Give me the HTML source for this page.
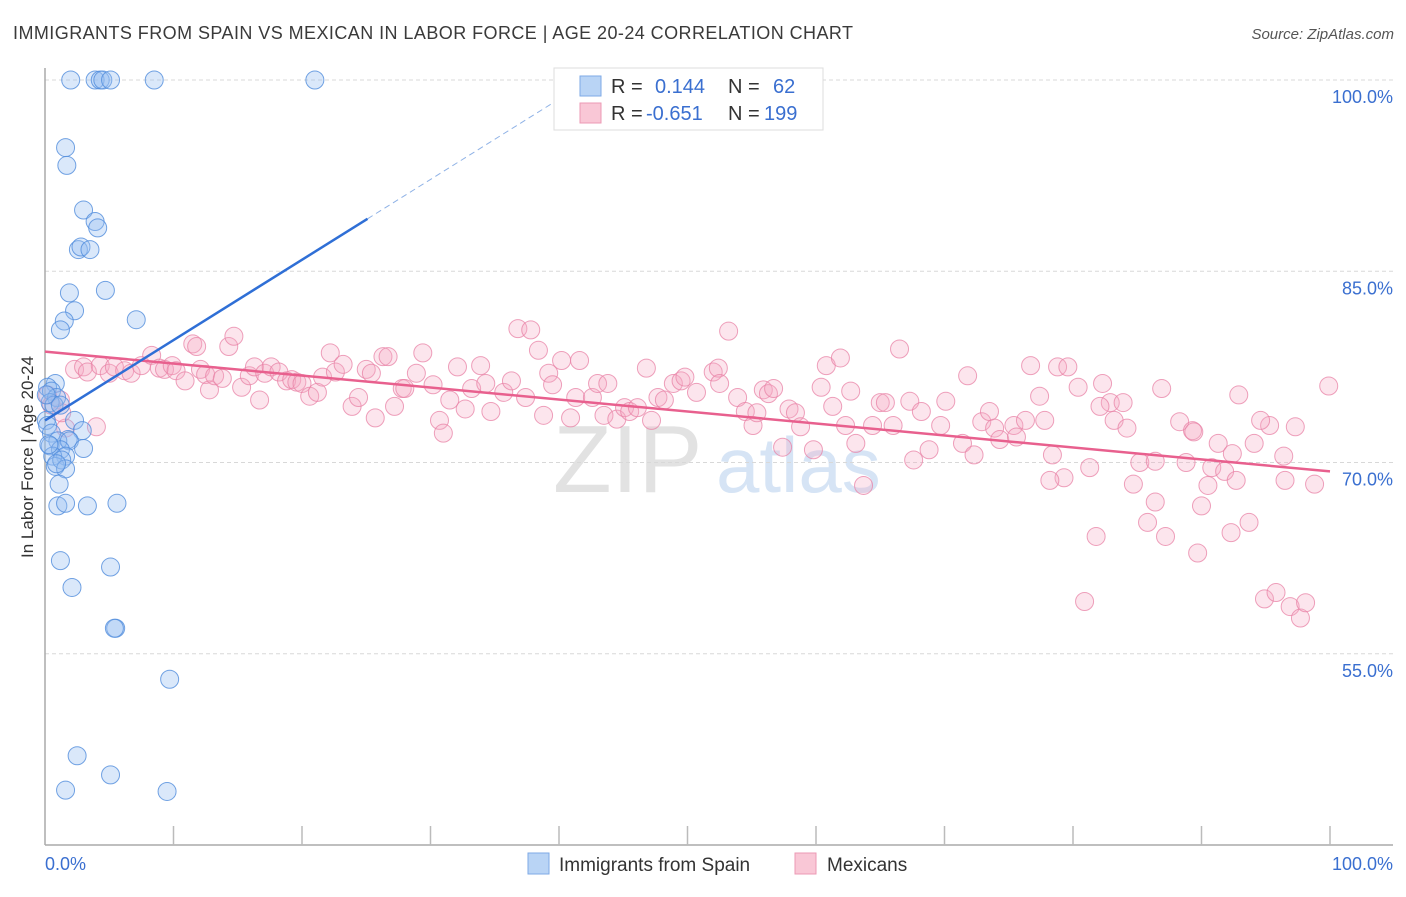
<!DOCTYPE html>
<html><head><meta charset="utf-8">
<style>
body{margin:0;background:#fff;font-family:"Liberation Sans",sans-serif;}
svg text{font-family:"Liberation Sans",sans-serif;}
</style></head>
<body>
<svg id="chart" width="1406" height="892" viewBox="0 0 1406 892" xmlns="http://www.w3.org/2000/svg">
<text x="13" y="39" font-size="18" fill="#3a3a3a" textLength="840" lengthAdjust="spacing">IMMIGRANTS FROM SPAIN VS MEXICAN IN LABOR FORCE | AGE 20-24 CORRELATION CHART</text>
<text x="1394" y="39" font-size="15" fill="#555" text-anchor="end" font-style="italic">Source: ZipAtlas.com</text>
<g>
<text x="553" y="492" font-family="Liberation Serif,serif" font-size="96" fill="#e2e2e2">ZIP</text>
<text x="716" y="492" font-size="78" fill="#d6e4f5">atlas</text>
</g>
<g id="grid"></g>
<g id="axes"></g>
<g id="pinkPts"></g>
<g id="bluePts"></g>
<g id="lines"></g>
<text transform="translate(33,457) rotate(-90)" font-size="17" fill="#333" text-anchor="middle">In Labor Force | Age 20-24</text>
<g>
<rect x="554" y="68" width="269" height="62" fill="#fff" stroke="#ddd"/>
<rect x="580" y="76" width="21" height="20" fill="#b9d4f5" stroke="#7eaae6"/>
<rect x="580" y="103" width="21" height="20" fill="#f9c7d6" stroke="#ec9ab4"/>
<text x="611" y="93" font-size="20" fill="#333">R = </text><text x="655" y="93" font-size="20" fill="#3a6fd0">0.144</text>
<text x="728" y="93" font-size="20" fill="#333">N = </text><text x="773" y="93" font-size="20" fill="#3a6fd0">62</text>
<text x="611" y="120" font-size="20" fill="#333">R = </text><text x="646" y="120" font-size="20" fill="#3a6fd0">-0.651</text>
<text x="728" y="120" font-size="20" fill="#333">N = </text><text x="764" y="120" font-size="20" fill="#3a6fd0">199</text>
</g>
<g>
<rect x="528" y="853" width="21" height="21" fill="#b9d4f5" stroke="#7eaae6"/>
<text x="559" y="871" font-size="19" fill="#333">Immigrants from Spain</text>
</g>
<g>
<rect x="795" y="853" width="21" height="21" fill="#f9c7d6" stroke="#ec9ab4"/>
<text x="827" y="871" font-size="19" fill="#333">Mexicans</text>
</g>
</svg>
<script>
const yTicks=[100,85,70,55];
const yTickLabels=["100.0%","85.0%","70.0%","55.0%"];
const xTickLabels=["0.0%","100.0%"];
const blueX=[2.0,3.9,4.3,4.5,5.1,8.5,21.0,1.6,1.7,3.0,3.9,4.1,2.6,2.8,3.5,1.9,4.7,2.3,1.5,7.1,1.2,0.8,0.2,0.5,0.9,0.4,0.7,1.2,0.1,0.2,2.3,2.9,0.5,1.8,1.0,1.9,0.4,1.2,1.6,3.0,0.6,0.8,1.3,1.6,1.1,1.0,1.6,3.3,5.6,1.2,5.1,2.1,5.5,5.4,9.7,2.5,5.1,1.6,9.5,0.3,0.1,0.9];
const blueY=[100,100,100,100,100,100,100,94.7,93.3,89.8,88.9,88.4,86.7,86.9,86.7,83.3,83.5,81.9,81.1,81.2,80.4,76.2,75.9,75.6,75.1,74.7,74.5,74.5,73.3,72.9,73.3,72.5,72.3,71.8,71.7,71.7,71.3,71.0,70.5,71.1,70.5,69.7,70.2,69.5,68.3,66.6,66.8,66.6,66.8,62.3,61.8,60.2,57.0,57.0,53.0,47.0,45.5,44.3,44.2,71.4,75.3,69.9];
const pinkX=[0.2,0.5,1.2,1.6,1.3,2.3,3.0,3.3,4.0,4.3,5.0,5.4,6.2,6.7,7.5,8.3,8.9,9.3,9.9,10.2,10.9,11.5,11.8,12.1,12.5,12.8,13.2,13.8,14.3,14.7,15.3,15.9,16.3,16.7,17.1,17.6,18.2,18.8,19.2,19.6,20.0,20.6,21.2,21.6,22.2,22.6,23.2,23.9,24.4,25.0,25.4,25.7,26.3,26.7,27.2,27.8,28.0,28.9,29.4,30.2,30.7,31.0,31.5,32.1,32.7,33.2,33.9,34.3,34.7,35.7,36.3,36.8,37.4,37.8,38.4,38.8,39.2,39.5,40.2,40.9,41.3,41.6,42.6,43.0,43.5,43.8,44.5,45.1,45.5,46.1,46.8,47.2,47.7,48.2,48.9,49.5,49.8,50.7,52.0,52.4,52.5,53.2,53.9,54.5,55.1,55.4,55.9,56.3,56.7,57.4,57.9,58.4,58.8,59.8,60.4,60.8,61.3,61.9,62.3,62.7,63.1,63.7,64.4,65.0,65.4,66.0,66.5,67.3,67.6,68.2,68.8,69.7,70.1,71.4,71.8,72.3,72.9,73.5,73.9,74.3,75.4,75.6,76.3,76.7,77.4,77.8,78.4,78.8,79.3,79.6,80.4,81.3,81.8,82.3,82.9,83.2,83.9,84.2,84.7,85.2,85.8,86.4,86.9,87.2,88.3,88.8,89.3,89.7,90.0,90.8,91.3,91.8,92.3,92.7,92.9,93.7,94.1,94.9,95.8,96.4,96.5,96.9,97.7,98.1,98.8,99.9,80.9,89.4,95.3,97.3,92.4,90.5,78.2,94.6,82.1,86.4];
const pinkY=[75.3,74.5,74.9,72.7,73.9,77.3,77.5,77.1,72.8,77.6,77.0,77.5,77.2,77.0,77.6,78.4,77.4,77.3,77.6,77.2,76.4,79.3,79.1,77.3,76.9,75.7,76.8,76.6,79.1,79.9,75.9,76.8,77.5,74.9,77.0,77.5,77.1,76.4,76.5,76.3,76.2,75.2,75.5,76.7,78.6,77.1,77.7,74.4,75.1,77.3,77.0,73.5,78.3,78.3,74.4,75.8,75.8,77.0,78.6,76.1,73.3,72.3,74.9,77.5,74.2,75.8,77.6,76.2,74.0,75.5,76.4,80.5,75.1,80.4,78.8,73.7,77.0,76.1,78.0,73.5,75.1,78.0,75.1,76.2,73.7,76.2,73.4,74.3,74.0,74.3,77.4,73.3,75.1,74.9,76.2,76.4,76.7,75.5,77.1,77.4,76.2,80.3,75.1,74.0,72.9,73.9,75.7,75.4,75.8,71.2,74.2,73.9,72.8,71.0,75.9,77.6,74.4,78.2,72.9,75.6,71.5,68.2,72.9,74.7,74.7,72.9,78.9,74.8,70.2,74.0,71.0,72.9,74.8,71.5,76.8,70.6,73.2,74.0,72.7,71.8,72.9,72.0,73.3,77.6,75.2,73.3,70.6,77.5,68.8,77.5,75.9,69.6,64.2,76.2,74.7,73.3,74.7,72.7,68.3,70.0,65.3,70.1,75.8,64.2,73.2,70.0,72.5,62.9,66.6,69.6,71.5,69.3,64.5,68.6,75.3,65.3,71.5,59.3,59.8,70.5,68.6,58.7,57.8,59.0,68.3,76.0,59.1,72.4,72.9,72.8,70.7,68.2,68.6,73.3,74.4,66.9];
const blueTrend=[73.3,0.63];
const pinkTrend=[78.7,-0.094];

const X0=45,X1=1330,Y100=80,PX_PER_PCT=12.75;
function sx(v){return X0+(X1-X0)*v/100;}
function sy(v){return Y100+(100-v)*PX_PER_PCT;}
const NS="http://www.w3.org/2000/svg";
function mk(tag,attrs,parent){const e=document.createElementNS(NS,tag);for(const k in attrs)e.setAttribute(k,attrs[k]);parent.appendChild(e);return e;}
const grid=document.getElementById('grid'),axes=document.getElementById('axes');
yTicks.forEach((t,i)=>{
  const l=mk('line',{x1:X0,x2:1393,y1:sy(t),y2:sy(t),stroke:'#d8d8d8','stroke-dasharray':'4,3'},grid);
  
  
  const tx=mk('text',{x:1393,y:sy(t)+23,'font-size':18,fill:'#3a6fd0','text-anchor':'end'},grid);
  tx.textContent=yTickLabels[i];
  
  
});
const ya=mk('line',{x1:X0,x2:X0,y1:68,y2:845,stroke:'#aaa','stroke-width':1.5},axes);


const xa=mk('line',{x1:X0,x2:1393,y1:845,y2:845,stroke:'#aaa','stroke-width':1.5},axes);


for(let i=1;i<=10;i++){
  const tk=mk('line',{x1:sx(i*10),x2:sx(i*10),y1:826,y2:845,stroke:'#bbb','stroke-width':1.5},axes);
  
  
}
const xl0=mk('text',{x:45,y:870,'font-size':18,fill:'#3a6fd0'},axes);xl0.textContent=xTickLabels[0];


const xl1=mk('text',{x:1393,y:870,'font-size':18,fill:'#3a6fd0','text-anchor':'end'},axes);xl1.textContent=xTickLabels[1];



const pg=document.getElementById('pinkPts');
pinkX.forEach((v,i)=>{
  const c=mk('circle',{cx:sx(v),cy:sy(pinkY[i]),r:9,fill:'rgba(246,170,196,0.3)',stroke:'rgba(232,130,165,0.75)','stroke-width':1},pg);
  
  
});
const bg=document.getElementById('bluePts');
blueX.forEach((v,i)=>{
  const c=mk('circle',{cx:sx(v),cy:sy(blueY[i]),r:9,fill:'rgba(150,190,240,0.35)',stroke:'rgba(80,140,220,0.8)','stroke-width':1},bg);
  
  
});
const lg=document.getElementById('lines');
const pl=mk('line',{x1:sx(0),y1:sy(pinkTrend[0]),x2:sx(100),y2:sy(pinkTrend[0]+pinkTrend[1]*100),stroke:'#e8608e','stroke-width':2.5},lg);


const bEnd=25.1, bMax=(100-blueTrend[0])/blueTrend[1];
const bl=mk('line',{x1:sx(0),y1:sy(blueTrend[0]),x2:sx(bEnd),y2:sy(blueTrend[0]+blueTrend[1]*bEnd),stroke:'#2f6fd6','stroke-width':2.5},lg);


const bd=mk('line',{x1:sx(bEnd),y1:sy(blueTrend[0]+blueTrend[1]*bEnd),x2:sx(bMax),y2:sy(100),stroke:'#8fb2e6','stroke-width':1,'stroke-dasharray':'6,4'},lg);


</script>
</body></html>
